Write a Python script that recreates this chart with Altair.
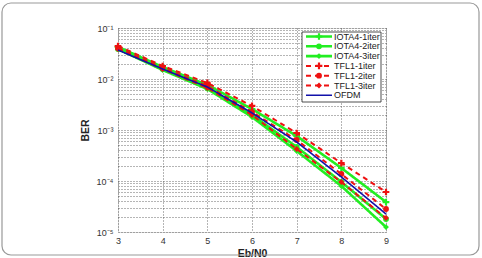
import altair as alt
import pandas as pd

ebn0 = [3, 4, 5, 6, 7, 8, 9]
series_names = ["IOTA4-1iter", "IOTA4-2iter", "IOTA4-3iter",
                "TFL1-1iter", "TFL1-2iter", "TFL1-3iter", "OFDM"]
iota4_1 = [0.0424, 0.0172, 0.00763, 0.00258, 7.62e-4, 1.80e-4, 3.87e-5]
iota4_2 = [0.0387, 0.0157, 0.00667, 0.00197, 4.65e-4, 9.55e-5, 1.80e-5]
iota4_3 = [0.0387, 0.0150, 0.00637, 0.00180, 3.87e-4, 7.97e-5, 1.25e-5]
tfl1_1 = [0.0444, 0.0180, 0.00836, 0.00296, 8.73e-4, 2.25e-4, 6.08e-5]
tfl1_2 = [0.0405, 0.0164, 0.00729, 0.00226, 6.37e-4, 1.37e-4, 2.82e-5]
tfl1_3 = [0.0387, 0.0157, 0.00667, 0.00197, 4.24e-4, 9.55e-5, 1.88e-5]
ofdm = [0.0370, 0.0157, 0.00697, 0.00216, 5.82e-4, 1.20e-4, 2.25e-5]
series_values = [iota4_1, iota4_2, iota4_3, tfl1_1, tfl1_2, tfl1_3, ofdm]

x_ticks = [3, 4, 5, 6, 7, 8, 9]
y_decades = [1e-5, 1e-4, 1e-3, 1e-2, 1e-1]

PLUS = "M-1,0L1,0M0,-1L0,1"
styles = {
    "IOTA4-1iter": dict(color="#22ee22", width=2.6, dash=[1, 0], marker="plus"),
    "IOTA4-2iter": dict(color="#22ee22", width=2.6, dash=[1, 0], marker="circle"),
    "IOTA4-3iter": dict(color="#22ee22", width=2.6, dash=[1, 0], marker="diamond"),
    "TFL1-1iter": dict(color="#ee1111", width=2.0, dash=[5, 4], marker="plus"),
    "TFL1-2iter": dict(color="#ee1111", width=2.0, dash=[5, 4], marker="circle"),
    "TFL1-3iter": dict(color="#ee1111", width=2.0, dash=[5, 4], marker="diamond"),
    "OFDM": dict(color="#1111aa", width=1.6, dash=[1, 0], marker=None),
}

FONT = "Liberation Sans"
W, H = 268, 204

minor = []
for d in [1e-5, 1e-4, 1e-3, 1e-2]:
    for k in range(1, 10):
        minor.append(k * d)
minor.append(1e-1)

label_expr = ("abs(log(datum.value)/LN10 - round(log(datum.value)/LN10)) < 0.01 ? "
              "'10' + ['\u2070','\u207b\u00b9','\u207b\u00b2','\u207b\u00b3','\u207b\u2074','\u207b\u2075']"
              "[-round(log(datum.value)/LN10)] : ''")

x_enc = alt.X("ebn0:Q", scale=alt.Scale(domain=[3, 9], nice=False, zero=False),
              axis=alt.Axis(values=x_ticks, title="Eb/N0", grid=True, gridDash=[1, 2],
                            gridColor="#444", gridWidth=0.8, domain=False, ticks=False,
                            labelFontSize=9, labelFont=FONT, labelColor="#333",
                            labelFlush=False, labelPadding=4,
                            titleFont=FONT, titleFontSize=10.5, titleFontWeight="bold",
                            titleColor="#222", titlePadding=3))
y_enc = alt.Y("ber:Q", scale=alt.Scale(type="log", domain=[1e-5, 1e-1], nice=False),
              axis=alt.Axis(values=minor, labelExpr=label_expr, title="BER", grid=True,
                            gridDash=[1, 2], gridColor="#444", gridWidth=0.8,
                            domain=False, ticks=False, labelOverlap=False, labelFlush=False,
                            labelFontSize=9, labelFont=FONT, labelColor="#333", labelPadding=5,
                            titleFont=FONT, titleFontSize=10.5, titleFontWeight="bold",
                            titleColor="#222", titlePadding=6))

layers = []

frame = alt.Chart(pd.DataFrame({"a": [0]})).mark_rect(
    fillOpacity=0, stroke="#999", strokeWidth=1.2, cornerRadius=9, clip=False
).encode(x=alt.value(-116), x2=alt.value(361), y=alt.value(-25), y2=alt.value(227))
layers.append(frame)

first = True
for name, vals in zip(series_names, series_values):
    st = styles[name]
    df = pd.DataFrame({"ebn0": ebn0, "ber": vals})
    xe = x_enc if first else alt.X("ebn0:Q", scale=alt.Scale(domain=[3, 9], nice=False, zero=False))
    ye = y_enc if first else alt.Y("ber:Q", scale=alt.Scale(type="log", domain=[1e-5, 1e-1], nice=False))
    first = False
    line = alt.Chart(df).mark_line(color=st["color"], strokeWidth=st["width"],
                                   strokeDash=st["dash"], clip=False).encode(x=xe, y=ye)
    layers.append(line)
    if st["marker"] == "plus":
        pts = alt.Chart(df).mark_point(shape=PLUS, size=45, filled=False, stroke=st["color"],
                                       strokeWidth=2.2, opacity=1, clip=False).encode(x="ebn0:Q", y="ber:Q")
        layers.append(pts)
    elif st["marker"] is not None:
        pts = alt.Chart(df).mark_point(shape=st["marker"], size=34, filled=True, fill=st["color"],
                                       opacity=1, clip=False).encode(x="ebn0:Q", y="ber:Q")
        layers.append(pts)

# legend box
lx0, lx1, ly0, ly1 = 184, 263, 4, 74
legend_box = alt.Chart(pd.DataFrame({"a": [0]})).mark_rect(
    fill="white", stroke="#222", strokeWidth=0.8
).encode(x=alt.value(lx0), x2=alt.value(lx1), y=alt.value(ly0), y2=alt.value(ly1))
layers.append(legend_box)

for i, name in enumerate(series_names):
    st = styles[name]
    yy = 8.5 + i * 9.8
    ldf = pd.DataFrame({"label": [name]})
    layers.append(alt.Chart(ldf).mark_rule(color=st["color"], strokeWidth=st["width"],
                                           strokeDash=st["dash"]).encode(
        x=alt.value(188), x2=alt.value(214), y=alt.value(yy)))
    if st["marker"] == "plus":
        layers.append(alt.Chart(ldf).mark_point(shape=PLUS, size=45, filled=False,
                                                stroke=st["color"], strokeWidth=2.2, opacity=1).encode(
            x=alt.value(201), y=alt.value(yy)))
    elif st["marker"] is not None:
        layers.append(alt.Chart(ldf).mark_point(shape=st["marker"], size=34, filled=True,
                                                fill=st["color"], opacity=1).encode(
            x=alt.value(201), y=alt.value(yy)))
    layers.append(alt.Chart(ldf).mark_text(align="left", baseline="middle", fontSize=9,
                                           font=FONT, color="#222").encode(
        x=alt.value(216), y=alt.value(yy), text="label:N"))

chart = alt.layer(*layers).properties(
    width=W, height=H,
    autosize=alt.AutoSizeParams(type="none"),
    padding={"left": 118, "top": 28, "right": 96, "bottom": 26},
).configure_view(stroke="#444", strokeWidth=1).configure(background="white")

chart.save("out.html", embed_options={"renderer": "svg", "actions": False})
